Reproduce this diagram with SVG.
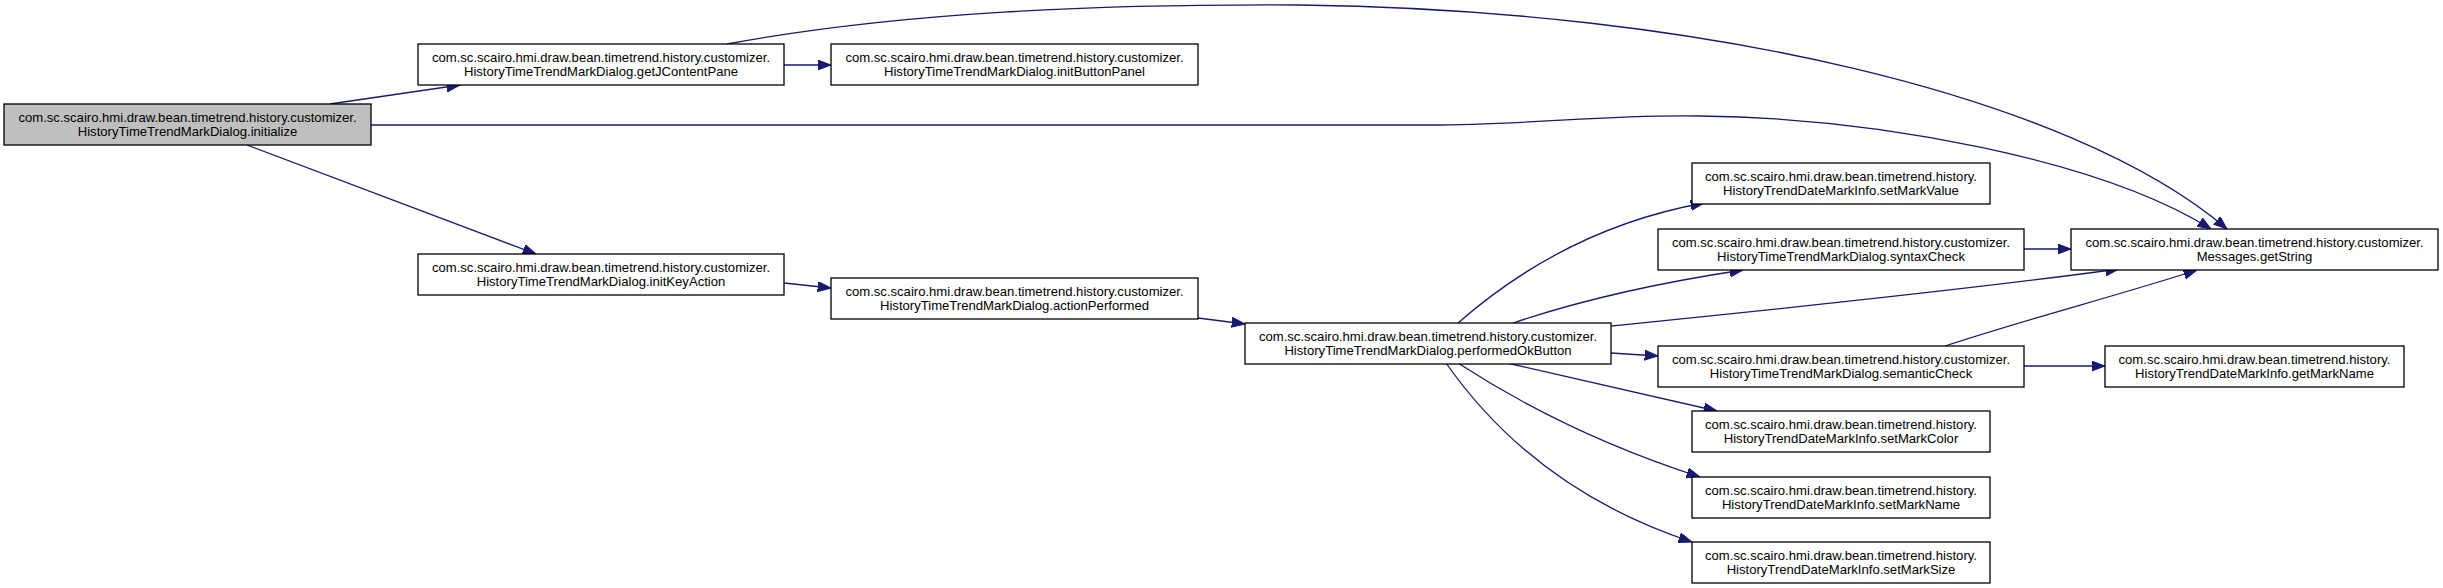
<svg xmlns="http://www.w3.org/2000/svg" width="2443" height="588" viewBox="0 0 2443 588">
<defs>
<style>
.n rect{fill:#ffffff;stroke:#000000;stroke-width:1.3}
.n.hl rect{fill:#bfbfbf}
.n text{font-family:"Liberation Sans",Arial,sans-serif;font-size:13.1px;fill:#000000;text-anchor:middle}
.e path{fill:none;stroke:#191970;stroke-width:1.3;marker-end:url(#ah)}
</style>
<marker id="ah" markerUnits="userSpaceOnUse" markerWidth="15" markerHeight="11" refX="13.3" refY="5" orient="auto">
<path d="M0,0 L13.3,5 L0,10 z" fill="#191970" stroke="#191970" stroke-width="1"/>
</marker>
</defs>
<rect width="2443" height="588" fill="#ffffff"/>
<g id="edges" class="e">
<path d="M330,104 L460,85"/>
<path d="M371,125 L1430,125 C1530,125 1610,114 1700,116 C1880,118 2100,160 2211,229"/>
<path d="M727,44 C900,12 1100,4 1300,5 C1700,10 2070,95 2227,229"/>
<path d="M784,65 L831,65"/>
<path d="M247,145 L536,254"/>
<path d="M784,283 L831,288"/>
<path d="M1198,318 L1245,324"/>
<path d="M1458,323 C1530,260 1610,220 1704,203"/>
<path d="M1513,323 C1590,297 1670,281 1743,270"/>
<path d="M1611,326 C1750,312 1950,292 2119,269"/>
<path d="M1611,353 L1658,356"/>
<path d="M1507,363 L1717,411"/>
<path d="M1458,363 C1530,410 1610,448 1700,477"/>
<path d="M1446,363 C1500,440 1580,505 1692,542"/>
<path d="M2024,249 L2071,249"/>
<path d="M1945,346 C2030,318 2120,295 2197,270"/>
<path d="M2024,366 L2105,366"/>
</g>
<g id="n_initialize" class="n hl"><rect x="4" y="104" width="367" height="41"/><text x="187.5" y="122">com.sc.scairo.hmi.draw.bean.timetrend.history.customizer.</text><text x="187.5" y="136">HistoryTimeTrendMarkDialog.initialize</text></g>
<g id="n_getJContentPane" class="n"><rect x="418" y="44" width="366" height="41"/><text x="601" y="62">com.sc.scairo.hmi.draw.bean.timetrend.history.customizer.</text><text x="601" y="76">HistoryTimeTrendMarkDialog.getJContentPane</text></g>
<g id="n_initButtonPanel" class="n"><rect x="831" y="44" width="367" height="41"/><text x="1014.5" y="62">com.sc.scairo.hmi.draw.bean.timetrend.history.customizer.</text><text x="1014.5" y="76">HistoryTimeTrendMarkDialog.initButtonPanel</text></g>
<g id="n_initKeyAction" class="n"><rect x="418" y="254" width="366" height="41"/><text x="601" y="272">com.sc.scairo.hmi.draw.bean.timetrend.history.customizer.</text><text x="601" y="286">HistoryTimeTrendMarkDialog.initKeyAction</text></g>
<g id="n_actionPerformed" class="n"><rect x="831" y="278" width="367" height="41"/><text x="1014.5" y="296">com.sc.scairo.hmi.draw.bean.timetrend.history.customizer.</text><text x="1014.5" y="310">HistoryTimeTrendMarkDialog.actionPerformed</text></g>
<g id="n_performedOkButton" class="n"><rect x="1245" y="323" width="366" height="41"/><text x="1428" y="341">com.sc.scairo.hmi.draw.bean.timetrend.history.customizer.</text><text x="1428" y="355">HistoryTimeTrendMarkDialog.performedOkButton</text></g>
<g id="n_setMarkValue" class="n"><rect x="1692" y="163" width="298" height="41"/><text x="1841" y="181">com.sc.scairo.hmi.draw.bean.timetrend.history.</text><text x="1841" y="195">HistoryTrendDateMarkInfo.setMarkValue</text></g>
<g id="n_syntaxCheck" class="n"><rect x="1658" y="229" width="366" height="41"/><text x="1841" y="247">com.sc.scairo.hmi.draw.bean.timetrend.history.customizer.</text><text x="1841" y="261">HistoryTimeTrendMarkDialog.syntaxCheck</text></g>
<g id="n_getString" class="n"><rect x="2071" y="229" width="367" height="41"/><text x="2254.5" y="247">com.sc.scairo.hmi.draw.bean.timetrend.history.customizer.</text><text x="2254.5" y="261">Messages.getString</text></g>
<g id="n_semanticCheck" class="n"><rect x="1658" y="346" width="366" height="41"/><text x="1841" y="364">com.sc.scairo.hmi.draw.bean.timetrend.history.customizer.</text><text x="1841" y="378">HistoryTimeTrendMarkDialog.semanticCheck</text></g>
<g id="n_getMarkName" class="n"><rect x="2105" y="346" width="299" height="41"/><text x="2254.5" y="364">com.sc.scairo.hmi.draw.bean.timetrend.history.</text><text x="2254.5" y="378">HistoryTrendDateMarkInfo.getMarkName</text></g>
<g id="n_setMarkColor" class="n"><rect x="1692" y="411" width="298" height="41"/><text x="1841" y="429">com.sc.scairo.hmi.draw.bean.timetrend.history.</text><text x="1841" y="443">HistoryTrendDateMarkInfo.setMarkColor</text></g>
<g id="n_setMarkName" class="n"><rect x="1692" y="477" width="298" height="41"/><text x="1841" y="495">com.sc.scairo.hmi.draw.bean.timetrend.history.</text><text x="1841" y="509">HistoryTrendDateMarkInfo.setMarkName</text></g>
<g id="n_setMarkSize" class="n"><rect x="1692" y="542" width="298" height="41"/><text x="1841" y="560">com.sc.scairo.hmi.draw.bean.timetrend.history.</text><text x="1841" y="574">HistoryTrendDateMarkInfo.setMarkSize</text></g>
</svg>
